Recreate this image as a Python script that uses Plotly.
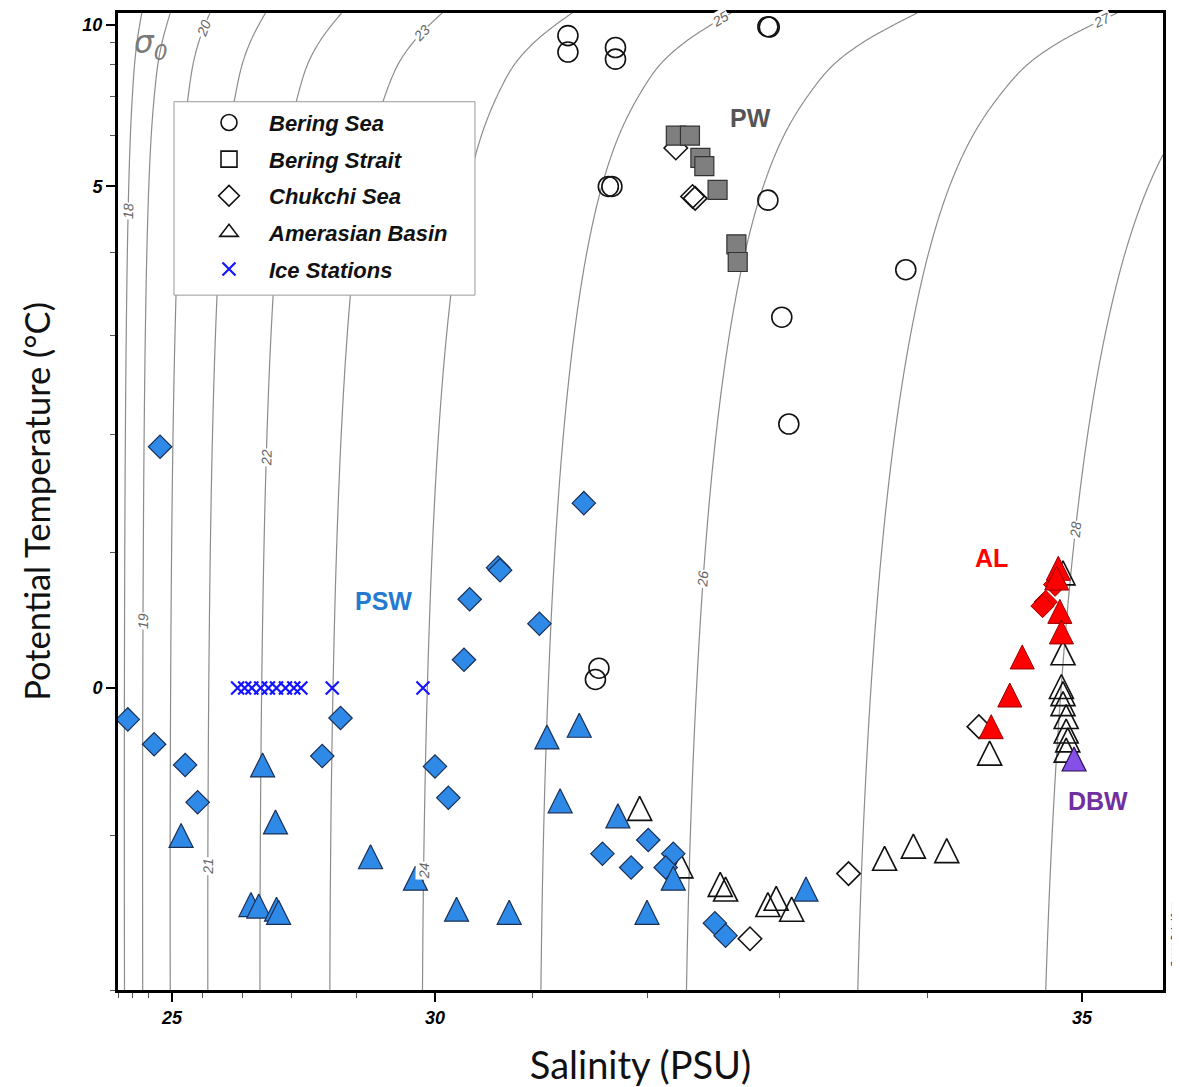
import numpy as np
import plotly.graph_objects as go

# ---------------- data (salinity PSU, potential temperature degC) ----------------
bering_sea_S = [31.33, 31.33, 31.74, 31.74, 32.92, 32.93, 31.68, 31.71, 32.92, 33.86, 33.02, 33.07, 31.60, 31.57]
bering_sea_T = [9.39, 8.55, 8.77, 8.23, 9.90, 9.88, 5.00, 5.00, 4.77, 3.77, 3.20, 2.10, 0.14, 0.06]

bering_strait_S = [32.23, 32.34, 32.42, 32.45, 32.55, 32.69, 32.70]
bering_strait_T = [6.00, 6.00, 5.53, 5.37, 4.94, 4.11, 3.87]

chukchi_open_S = [32.23, 32.38, 32.36, 34.34, 33.48, 32.79]
chukchi_open_T = [5.73, 4.80, 4.83, -0.27, -1.25, -1.67]

chukchi_psw_S = [24.54, 22.71, 24.29, 25.47, 25.87, 31.47, 30.67, 30.69, 30.38, 31.07, 30.32, 28.78, 28.51,
                 30.00, 30.15, 32.01, 31.63, 31.87, 32.21, 32.15, 32.53, 32.61]
chukchi_psw_T = [1.89, -0.22, -0.39, -0.53, -0.78, 1.40, 0.88, 0.86, 0.64, 0.46, 0.20, -0.21, -0.47,
                 -0.54, -0.75, -1.03, -1.12, -1.21, -1.12, -1.21, -1.57, -1.65]

chukchi_al_S = [34.83, 34.77, 34.75]
chukchi_al_T = [0.75, 0.62, 0.59]

basin_psw_S = [27.45, 25.33, 27.71, 29.20, 29.77, 27.20, 27.37, 27.73, 27.77, 30.24, 30.78, 31.14, 31.43,
               31.26, 31.76, 32.00, 32.21, 33.19]
basin_psw_T = [-0.53, -1.00, -0.91, -1.14, -1.28, -1.45, -1.46, -1.48, -1.50, -1.48, -1.50, -0.34, -0.26,
               -0.77, -0.87, -1.50, -1.28, -1.35]

basin_open_S = [31.94, 32.27, 32.57, 32.61, 32.92, 32.98, 33.09, 33.72, 33.91, 34.13,
                34.88, 34.88, 34.87, 34.88, 34.88, 34.90, 34.90, 34.91, 34.90, 34.41]
basin_open_T = [-0.82, -1.20, -1.32, -1.35, -1.45, -1.41, -1.48, -1.15, -1.07, -1.10,
                0.84, 0.25, 0.01, -0.04, -0.11, -0.20, -0.30, -0.36, -0.43, -0.45]

basin_al_S = [34.85, 34.84, 34.86, 34.87, 34.62, 34.54, 34.42]
basin_al_T = [0.875, 0.80, 0.55, 0.40, 0.22, -0.05, -0.27]

basin_dbw_S = [34.95]
basin_dbw_T = [-0.49]

ice_S = [26.90, 27.06, 27.22, 27.41, 27.57, 27.73, 27.90, 28.05, 28.17, 28.66, 29.86]
ice_T = [0.0] * 11

x_major = [25, 30, 35]
y_major = [0, 5, 10]
sigma_levels = [18, 28, 1]  # start, end, step

# ---------------- stretched axis scales (value -> screen position) ----------------
S_SCALE = [22, 23, 24, 25, 26, 27, 28, 29, 30, 31, 32, 33, 34, 35, 35.5]
S_POS = [0, 14, 30, 54, 84, 124, 173, 238, 317, 414, 529, 661, 809, 964, 1045]
T_SCALE = [-2, -1, 0, 1, 2, 3, 4, 5, 6, 7, 8, 9, 10, 10.7]
T_POS = [0, 155, 303, 439, 557, 657, 740, 806, 857, 896, 928, 950, 968, 980]


def pchip(xk, yk, x):
    xk = np.asarray(xk, float)
    yk = np.asarray(yk, float)
    x = np.asarray(x, float)
    h = np.diff(xk)
    d = np.diff(yk) / h
    n = len(xk)
    m = np.zeros(n)
    for k in range(1, n - 1):
        if d[k - 1] * d[k] > 0:
            w1 = 2 * h[k] + h[k - 1]
            w2 = h[k] + 2 * h[k - 1]
            m[k] = (w1 + w2) / (w1 / d[k - 1] + w2 / d[k])
    m[0] = d[0]
    m[-1] = d[-1]
    i = np.clip(np.searchsorted(xk, x) - 1, 0, n - 2)
    t = (x - xk[i]) / h[i]
    h00 = 2 * t**3 - 3 * t**2 + 1
    h10 = t**3 - 2 * t**2 + t
    h01 = -2 * t**3 + 3 * t**2
    h11 = t**3 - t**2
    return h00 * yk[i] + h10 * h[i] * m[i] + h01 * yk[i + 1] + h11 * h[i] * m[i + 1]


def sx(S):
    return pchip(S_SCALE, S_POS, S)


def ty(T):
    return pchip(T_SCALE, T_POS, T)


def sigma0(S, T):
    rw = (999.842594 + 6.793952e-2 * T - 9.095290e-3 * T**2 + 1.001685e-4 * T**3
          - 1.120083e-6 * T**4 + 6.536332e-9 * T**5)
    A = 8.24493e-1 - 4.0899e-3 * T + 7.6438e-5 * T**2 - 8.2467e-7 * T**3 + 5.3875e-9 * T**4
    B = -5.72466e-3 + 1.0227e-4 * T - 1.6546e-6 * T**2
    C = 4.8314e-4
    return rw + A * S + B * S**1.5 + C * S**2 - 1000.0


fig = go.Figure()

# density contours
Sg = np.linspace(S_SCALE[0], S_SCALE[-1], 500)
Tg = np.linspace(T_SCALE[0], T_SCALE[-1], 500)
Z = sigma0(Sg[None, :], Tg[:, None])
fig.add_trace(go.Contour(
    x=sx(Sg), y=ty(Tg), z=Z,
    contours=dict(start=sigma_levels[0], end=sigma_levels[1], size=sigma_levels[2], coloring="none"),
    line=dict(color="#8c8c8c", width=1.2),
    showscale=False, hoverinfo="skip", showlegend=False,
))

BLUE = "#2E8AE6"
BLUE_EDGE = "#1B2F55"
RED = "#FF0000"
RED_EDGE = "#9A0000"
PURPLE = "#8550E8"
TRI = dict(symbol="arrow-down", angle=180, size=24, standoff=12)
TRI_OPEN = dict(symbol="arrow-down-open", angle=180, size=24, standoff=12)


def add(S, T, name, marker, legend=False, rank=None):
    fig.add_trace(go.Scatter(
        x=sx(S), y=ty(T), mode="markers", name=name, marker=marker,
        showlegend=legend, legendrank=rank, legendgroup=name if legend else None,
        customdata=np.c_[S, T], hovertemplate="S=%{customdata[0]}<br>θ=%{customdata[1]}<extra></extra>",
    ))


# open (white) markers first
add(bering_sea_S, bering_sea_T, "Bering Sea",
    dict(symbol="circle-open", size=20, color="#111", line=dict(width=1.6)), legend=True, rank=1)
add(chukchi_open_S, chukchi_open_T, "Chukchi open",
    dict(symbol="diamond-open", size=18, color="#111", line=dict(width=1.6)))
add(basin_open_S, basin_open_T, "Basin open",
    dict(**TRI_OPEN, color="#111", line=dict(width=1.6)))

# filled markers
add(bering_strait_S, bering_strait_T, "Bering Strait PW",
    dict(symbol="square", size=19, color="#7f7f7f", line=dict(color="#333", width=1.2)))
add(chukchi_psw_S, chukchi_psw_T, "Chukchi PSW",
    dict(symbol="diamond", size=18, color=BLUE, line=dict(color=BLUE_EDGE, width=1.2)))
add(basin_psw_S, basin_psw_T, "Basin PSW",
    dict(**TRI, color=BLUE, line=dict(color=BLUE_EDGE, width=1.2)))
add(chukchi_al_S, chukchi_al_T, "Chukchi AL",
    dict(symbol="diamond", size=18, color=RED, line=dict(color=RED_EDGE, width=1)))
add(basin_al_S, basin_al_T, "Basin AL",
    dict(**TRI, color=RED, line=dict(color=RED_EDGE, width=1)))
add(basin_dbw_S, basin_dbw_T, "Basin DBW",
    dict(**TRI, color=PURPLE, line=dict(color="#2a1050", width=1.2)))
add(ice_S, ice_T, "Ice Stations",
    dict(symbol="x-thin", size=13, color="#1414FF", line=dict(color="#1414FF", width=2.2)), legend=True, rank=5)

# legend-only glyphs (shape = region)
for nm, mk, rk in [
    ("Bering Strait", dict(symbol="square-open", size=18, color="#111", line=dict(width=1.6)), 2),
    ("Chukchi Sea", dict(symbol="diamond-open", size=16, color="#111", line=dict(width=1.6)), 3),
    ("Amerasian Basin", dict(symbol="triangle-up-open", size=18, color="#111", line=dict(width=1.6)), 4),
]:
    fig.add_trace(go.Scatter(x=[None], y=[None], mode="markers", name=nm, marker=mk,
                             showlegend=True, legendrank=rk, legendgroup=nm))

# contour labels placed on the computed isopycnals
label_T = {18: 4.6, 19: 0.48, 20: 9.83, 21: -1.2, 22: 1.79, 23: 9.55, 24: -1.23,
           25: 10.33, 26: 0.79, 27: 10.3, 28: 1.18}
Sf = np.linspace(20, 37, 4000)


def s_on(level, T):
    return float(np.interp(level, sigma0(Sf, T), Sf))


for lev, Tl in label_T.items():
    s0 = s_on(lev, Tl)
    s1, s2 = s_on(lev, Tl - 0.08), s_on(lev, Tl + 0.08)
    dx = float(sx(s2) - sx(s1))
    dy = -float(ty(Tl + 0.08) - ty(Tl - 0.08))
    ang = float(np.degrees(np.arctan2(dy, dx)))
    fig.add_annotation(x=float(sx(s0)), y=float(ty(Tl)), text=str(lev), showarrow=False,
                       textangle=ang, bgcolor="white", borderpad=0, xanchor="center", yanchor="middle",
                       font=dict(family="Liberation Sans, Arial", size=14, color="#666", style="italic"))


# label positions given in screen pixels of the 1180x1087 page (plot area x 118-1163, y 10-990)
def paper(px, py):
    return (px - 118) / 1045, (990 - py) / 980


for txt, (px, py), col in [("PW", (750, 115), "#555555"), ("PSW", (383, 600), "#2479D1"),
                           ("AL", (992, 557), "#FF0000"), ("DBW", (1098, 800), "#7030A0")]:
    xp, yp = paper(px, py)
    fig.add_annotation(xref="paper", yref="paper", x=xp, y=yp, text=txt, showarrow=False,
                       xanchor="center", yanchor="middle",
                       font=dict(family="Liberation Sans, Arial", size=25, color=col, weight="bold"))

xp, yp = paper(150, 42)
fig.add_annotation(xref="paper", yref="paper", x=xp, y=yp, text="σ<sub>0</sub>", showarrow=False,
                   xanchor="center", yanchor="middle",
                   font=dict(family="DejaVu Sans", size=31, color="#7a7a7a", style="italic"))
xp, yp = paper(1173, 935)
fig.add_annotation(xref="paper", yref="paper", x=xp, y=yp, text="Ocean Data View", showarrow=False,
                   textangle=-90, xanchor="center", yanchor="middle",
                   font=dict(family="Liberation Sans, Arial", size=8, color="#222", weight="bold", style="italic"))

# legend frame (white box hiding the isopycnals behind the legend)
x0, y1 = paper(174, 99)
x1, y0 = paper(475, 293)
fig.add_shape(type="rect", xref="paper", yref="paper", x0=x0, x1=x1, y0=y0, y1=y1,
              line=dict(color="#999", width=1), fillcolor="white", layer="above")

tickfont = dict(family="Liberation Sans, Arial", size=18, color="black", weight="bold", style="italic")
x_minor = [v for v in range(22, 36) if v not in x_major]
y_minor = [v for v in range(-2, 11) if v not in y_major]

fig.update_xaxes(
    range=[S_POS[0], S_POS[-1]], tickmode="array",
    tickvals=list(sx(x_major)), ticktext=[str(v) for v in x_major],
    ticks="outside", ticklen=9, tickwidth=2, tickcolor="black", tickfont=tickfont,
    minor=dict(tickmode="array", tickvals=list(sx(x_minor)), ticks="outside", ticklen=5,
               tickwidth=1, tickcolor="#555", showgrid=False),
    showgrid=False, zeroline=False, showline=True, mirror=True, linecolor="black", linewidth=3,
    title=dict(text="Salinity (PSU)", standoff=27,
               font=dict(family="Lato, Open Sans", size=38, color="#111")),
)
fig.update_yaxes(
    range=[T_POS[0], T_POS[-1]], tickmode="array",
    tickvals=list(ty(y_major)), ticktext=[str(v) for v in y_major],
    ticks="outside", ticklen=9, tickwidth=2, tickcolor="black", tickfont=tickfont,
    minor=dict(tickmode="array", tickvals=list(ty(y_minor)), ticks="outside", ticklen=5,
               tickwidth=1, tickcolor="#555", showgrid=False),
    showgrid=False, zeroline=False, showline=True, mirror=True, linecolor="black", linewidth=3,
    title=dict(text="Potential Temperature (°C)", standoff=22,
               font=dict(family="Lato, Open Sans", size=34.5, color="#111")),
)

# the page body adds an 8 px offset; the figure is sized so the plot area lands at x 118-1163, y 10-990
lx, ly = paper(174, 99)
fig.update_layout(
    width=1172, height=1079,
    margin=dict(l=110, r=17, t=2, b=97),
    paper_bgcolor="white", plot_bgcolor="white",
    legend=dict(x=lx, y=ly, xanchor="left", yanchor="top", bgcolor="rgba(0,0,0,0)",
                borderwidth=0, tracegroupgap=5, indentation=15, itemwidth=70,
                font=dict(family="Liberation Sans, Arial", size=22, color="#111",
                          weight="bold", style="italic")),
)

fig.write_html("out.html")
